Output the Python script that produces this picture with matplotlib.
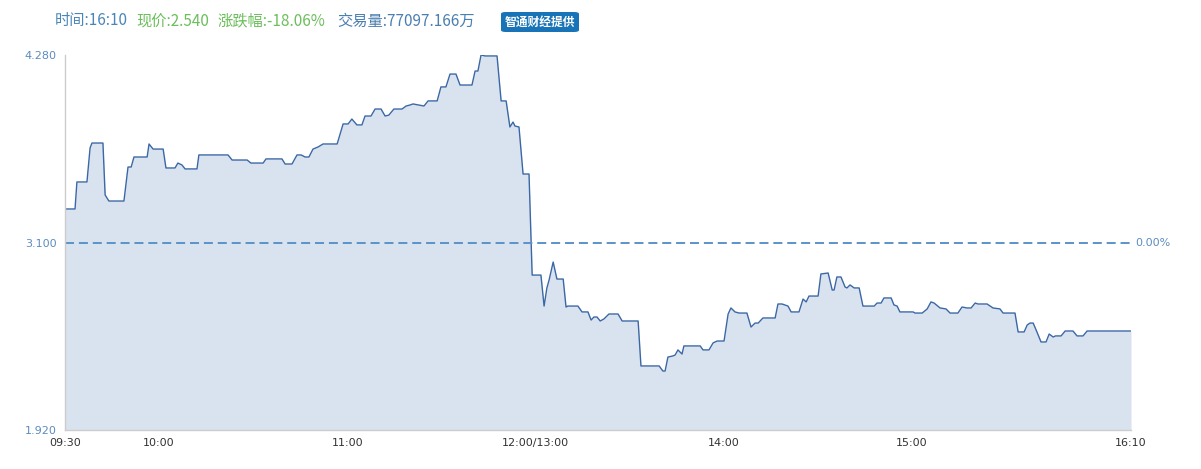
import matplotlib
matplotlib.use("Agg")
import matplotlib.pyplot as plt
from matplotlib.patches import FancyBboxPatch

plt.rcParams['font.family'] = ['Noto Sans CJK SC', 'DejaVu Sans']
plt.rcParams['lines.scale_dashes'] = False

# minutes since 09:30 on trading clock (12:00 and 13:00 share minute 150)
minutes = [0, 3.2, 3.8, 7.0, 8.0, 8.6, 12.1, 12.8, 14.0, 18.8, 20.1, 21.1, 22.0, 26.2, 26.8,
           28.1, 31.3, 32.2, 35.1, 36.0, 37.3, 38.3, 42.1, 42.7, 52.0, 53.3, 58.1, 59.3,
           63.2, 64.1, 69.2, 70.2, 72.4, 74.0, 75.3, 76.6, 77.8, 79.1, 80.7, 82.3, 86.8,
           88.7, 90.3, 91.5, 93.1, 94.7, 95.7, 97.6, 98.9, 100.8, 102.1, 103.3, 104.9, 107.5,
           108.8, 110.0, 111.0, 112.9, 114.5, 115.8, 118.7, 119.9, 121.5, 122.8, 124.7, 126.0,
           129.8, 130.8, 131.7, 132.7, 134.0, 137.8, 139.1, 140.7, 141.9, 142.9, 143.5, 144.8,
           146.1, 148.0, 149.0, 151.8, 152.8, 153.7, 154.4, 155.7, 156.9, 158.9, 159.8, 160.4,
           163.6, 164.9, 166.8, 167.8, 168.7, 169.7, 170.7, 171.9, 173.5, 176.4, 177.7, 182.8,
           183.7, 189.5, 190.7, 191.4, 192.3, 193.9, 194.6, 195.5, 196.8, 197.4, 202.6, 203.5,
           205.4, 206.7, 208.0, 210.2, 211.5, 212.4, 213.7, 215.0, 217.5, 218.8, 220.1, 221.1,
           222.6, 226.5, 227.4, 228.7, 230.6, 231.6, 234.1, 235.4, 236.4, 237.3, 240.2, 241.1,
           243.4, 244.7, 245.3, 246.2, 247.5, 248.8, 249.4, 250.4, 251.7, 253.3, 254.5, 258.1,
           259.0, 260.3, 261.2, 263.5, 264.4, 265.4, 266.3, 270.5, 271.1, 273.4, 275.0, 276.2,
           277.2, 279.1, 281.0, 282.3, 284.8, 286.1, 287.7, 289.0, 290.3, 291.2, 294.1, 296.0,
           298.2, 299.2, 303.0, 304.0, 305.9, 306.9, 307.8, 308.8, 310.0, 311.3, 312.9, 313.9,
           315.2, 315.9, 317.7, 319.0, 321.5, 322.8, 324.7, 326.0, 340.0]
prices = [3.311, 3.311, 3.481, 3.481, 3.695, 3.726, 3.726, 3.399, 3.361, 3.361, 3.575, 3.575,
          3.638, 3.638, 3.720, 3.688, 3.688, 3.569, 3.569, 3.600, 3.588, 3.563, 3.563, 3.651,
          3.651, 3.619, 3.619, 3.600, 3.600, 3.626, 3.626, 3.594, 3.594, 3.651, 3.651, 3.638,
          3.638, 3.688, 3.701, 3.720, 3.720, 3.846, 3.846, 3.877, 3.840, 3.840, 3.896, 3.896,
          3.940, 3.940, 3.896, 3.902, 3.940, 3.940, 3.959, 3.965, 3.972, 3.965, 3.959, 3.991,
          3.991, 4.079, 4.079, 4.160, 4.160, 4.091, 4.091, 4.179, 4.179, 4.280, 4.274, 4.274,
          3.991, 3.991, 3.827, 3.858, 3.833, 3.827, 3.531, 3.531, 2.895, 2.895, 2.700, 2.814,
          2.864, 2.977, 2.870, 2.870, 2.694, 2.700, 2.700, 2.663, 2.663, 2.612, 2.631, 2.631,
          2.606, 2.619, 2.650, 2.650, 2.606, 2.606, 2.323, 2.323, 2.291, 2.291, 2.379, 2.386,
          2.392, 2.424, 2.398, 2.449, 2.449, 2.424, 2.424, 2.468, 2.480, 2.480, 2.650, 2.688,
          2.663, 2.656, 2.656, 2.568, 2.593, 2.593, 2.625, 2.625, 2.713, 2.713, 2.700, 2.663,
          2.663, 2.744, 2.726, 2.763, 2.763, 2.902, 2.908, 2.801, 2.801, 2.883, 2.883, 2.820,
          2.814, 2.833, 2.814, 2.814, 2.700, 2.700, 2.719, 2.719, 2.751, 2.751, 2.707, 2.700,
          2.663, 2.663, 2.656, 2.656, 2.682, 2.726, 2.719, 2.688, 2.682, 2.656, 2.656, 2.694,
          2.688, 2.688, 2.719, 2.713, 2.713, 2.688, 2.682, 2.656, 2.656, 2.537, 2.537, 2.581,
          2.593, 2.593, 2.537, 2.474, 2.474, 2.524, 2.505, 2.512, 2.512, 2.543, 2.543, 2.512,
          2.512, 2.543, 2.543]

prev_close = 3.100
y_min, y_max = 1.920, 4.280
y_ticks = [1.920, 3.100, 4.280]
y_labels = ["1.920", "3.100", "4.280"]
x_ticks = [0, 30, 90, 150, 210, 270, 340]
x_labels = ["09:30", "10:00", "11:00", "12:00/13:00", "14:00", "15:00", "16:10"]

W, H = 1201, 469
fig = plt.figure(figsize=(W / 100, H / 100), dpi=100)
ax = fig.add_axes([65 / W, 1 - 430 / H, (1131 - 65) / W, 375 / H])

ax.fill_between(minutes, prices, y_min, color="#d9e3ef", linewidth=0)
ax.plot(minutes, prices, color="#3b67a5", linewidth=1.0)
ax.axhline(prev_close, color="#5b93c7", linewidth=1.4, dashes=(6.5, 3.5))

ax.set_xlim(0, 340)
ax.set_ylim(y_min, y_max)
ax.set_yticks(y_ticks)
ax.set_yticklabels(y_labels, color="#5b8cbf", fontsize=8, family=["DejaVu Sans"])
ax.set_xticks(x_ticks)
ax.set_xticklabels(x_labels, color="#333333", fontsize=8, family=["DejaVu Sans"])
ax.tick_params(axis="both", length=0)
ax.tick_params(axis="y", pad=6)
ax.tick_params(axis="x", pad=6)
for s in ["top", "right"]:
    ax.spines[s].set_visible(False)
for s in ["left", "bottom"]:
    ax.spines[s].set_color("#cccccc")
    ax.spines[s].set_linewidth(1.0)

ax.text(1.004, (prev_close - y_min) / (y_max - y_min), "0.00%", transform=ax.transAxes,
        color="#5b8cbf", fontsize=8, va="center", ha="left", family=["DejaVu Sans"])

# header
ty = 1 - 21 / H
fig.text(55 / W, ty, "时间:16:10", color="#4a86b8", fontsize=11, va="center", ha="left")
fig.text(136 / W, ty, "现价:2.540", color="#6cbf5c", fontsize=11, va="center", ha="left")
fig.text(218 / W, ty, "涨跌幅:-18.06%", color="#6cbf5c", fontsize=11, va="center", ha="left")
fig.text(337 / W, ty, "交易量:77097.166万", color="#4a7fb0", fontsize=11, va="center", ha="left")

badge = FancyBboxPatch((501 / W, 1 - 32 / H), 78 / W, 20 / H,
                       boxstyle="round,pad=0,rounding_size=0.004",
                       transform=fig.transFigure, facecolor="#1874b6", edgecolor="none")
fig.patches.append(badge)
fig.text(540 / W, 1 - 22 / H, "智通财经提供", color="white", fontsize=8.5,
         va="center", ha="center", fontweight="bold")

fig.savefig("out.png", dpi=100)
